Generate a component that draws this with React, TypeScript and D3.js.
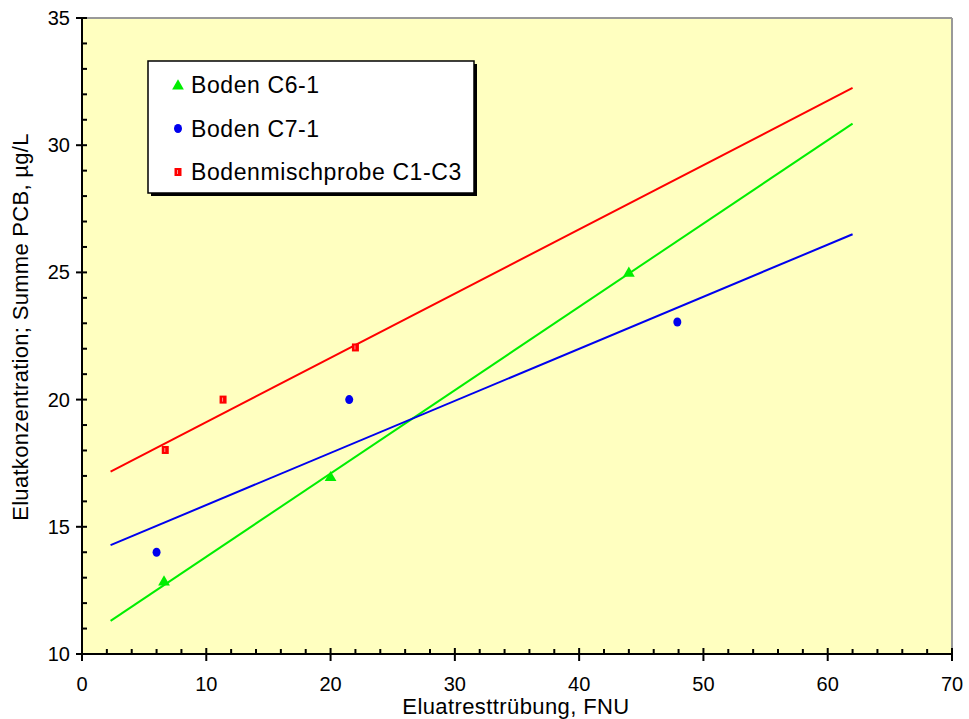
import React from "react";
import * as d3 from "d3";

const seriesNames = ["Boden C6-1", "Boden C7-1", "Bodenmischprobe C1-C3"];
const seriesColors = ["#00ee00", "#0000ee", "#ff0000"];
const greenX = [6.6, 20.0, 44.0];
const greenY = [12.87, 16.97, 25.0];
const blueX = [6.0, 21.5, 47.9];
const blueY = [14.0, 20.0, 23.05];
const redX = [6.7, 11.35, 22.0];
const redY = [18.02, 20.0, 22.05];
const fitX = [2.3, 62.0];
const greenFit = [11.3, 30.85];
const blueFit = [14.28, 26.5];
const redFit = [17.17, 32.25];
const xTicks = [0, 10, 20, 30, 40, 50, 60, 70];
const yTicks = [10, 15, 20, 25, 30, 35];

const W = 969, H = 719;
const L = 82, R = 952, T = 18, B = 654;

export default function App() {
  const x = d3.scaleLinear().domain([0, 70]).range([L, R]);
  const y = d3.scaleLinear().domain([10, 35]).range([B, T]);
  const line = d3.line<[number, number]>().x(d => x(d[0])).y(d => y(d[1]));
  const xMinor = d3.range(0, 70.01, 2).filter(v => v % 10 !== 0);
  const yMinor = d3.range(10, 35.01, 1).filter(v => v % 5 !== 0);
  const font = "'Liberation Sans', Arial, sans-serif";
  const fits = [greenFit, blueFit, redFit];
  const pts = [
    greenX.map((v, i) => [v, greenY[i]]),
    blueX.map((v, i) => [v, blueY[i]]),
    redX.map((v, i) => [v, redY[i]]),
  ];
  const tri = d3.symbol(d3.symbolTriangle, 60)();
  const marker = (s: number, cx: number, cy: number, key: any) => {
    if (s === 0) return <path key={key} d={tri!} transform={`translate(${cx},${cy + 1})`} fill={seriesColors[0]} />;
    if (s === 1) return <ellipse key={key} cx={cx} cy={cy} rx={4} ry={4.5} fill={seriesColors[1]} />;
    return (
      <g key={key}>
        <rect x={cx - 3.5} y={cy - 4} width={7} height={8} fill={seriesColors[2]} />
        <rect x={cx - 1} y={cy - 2} width={1} height={4} fill="#ff9090" />
      </g>
    );
  };
  const legX = 148, legY = 61, legW = 326, legH = 132;
  return (
    <svg width={W} height={H} style={{ position: "absolute", left: 0, top: 0, fontFamily: font }}>
      <rect x={0} y={0} width={W} height={H} fill="#ffffff" />
      <rect x={L} y={T} width={R - L} height={B - T} fill="#ffffc0" />
      <line x1={L} y1={T} x2={R} y2={T} stroke="#999999" strokeWidth={2} />
      <line x1={R} y1={T} x2={R} y2={B} stroke="#999999" strokeWidth={2} />
      {fits.map((f, i) => (
        <path key={i} d={line([[fitX[0], f[0]], [fitX[1], f[1]]])!} stroke={seriesColors[i]} strokeWidth={2} fill="none" />
      ))}
      {pts.map((ps, s) => ps.map((p, j) => marker(s, x(p[0]), y(p[1]), `${s}-${j}`)))}
      {/* axes */}
      <line x1={L} y1={T - 1} x2={L} y2={B + 1} stroke="#000" strokeWidth={2} />
      <line x1={L - 1} y1={B} x2={R + 1} y2={B} stroke="#000" strokeWidth={2} />
      {yTicks.map(v => (
        <g key={"yt" + v}>
          <line x1={L - 6} x2={L + 5} y1={y(v)} y2={y(v)} stroke="#000" strokeWidth={2} />
          <text x={L - 12} y={y(v) + 7} textAnchor="end" fontSize={20}>{v}</text>
        </g>
      ))}
      {yMinor.map(v => (
        <line key={"ym" + v} x1={L} x2={L + 5} y1={y(v)} y2={y(v)} stroke="#000" strokeWidth={2} />
      ))}
      {xTicks.map(v => (
        <g key={"xt" + v}>
          <line x1={x(v)} x2={x(v)} y1={B - 6} y2={B + 7} stroke="#000" strokeWidth={2} />
          <text x={x(v)} y={B + 37} textAnchor="middle" fontSize={20}>{v}</text>
        </g>
      ))}
      {xMinor.map(v => (
        <line key={"xm" + v} x1={x(v)} x2={x(v)} y1={B - 5} y2={B} stroke="#000" strokeWidth={2} />
      ))}
      <text x={516} y={714} textAnchor="middle" fontSize={22} letterSpacing={0.4}>Eluatresttrübung, FNU</text>
      <text transform={`translate(28,327) rotate(-90)`} textAnchor="middle" fontSize={22} letterSpacing={0.3}>Eluatkonzentration; Summe PCB, µg/L</text>
      {/* legend */}
      <rect x={legX + 3} y={legY + 3} width={legW} height={legH} fill="#000" />
      <rect x={legX} y={legY} width={legW} height={legH} fill="#fff" stroke="#000" strokeWidth={1.5} />
      {seriesNames.map((n, i) => (
        <g key={n}>
          {marker(i, 178, 85 + i * 43.5, "lm" + i)}
          <text x={191} y={93 + i * 43.5} fontSize={23} letterSpacing={0.6}>{n}</text>
        </g>
      ))}
    </svg>
  );
}
